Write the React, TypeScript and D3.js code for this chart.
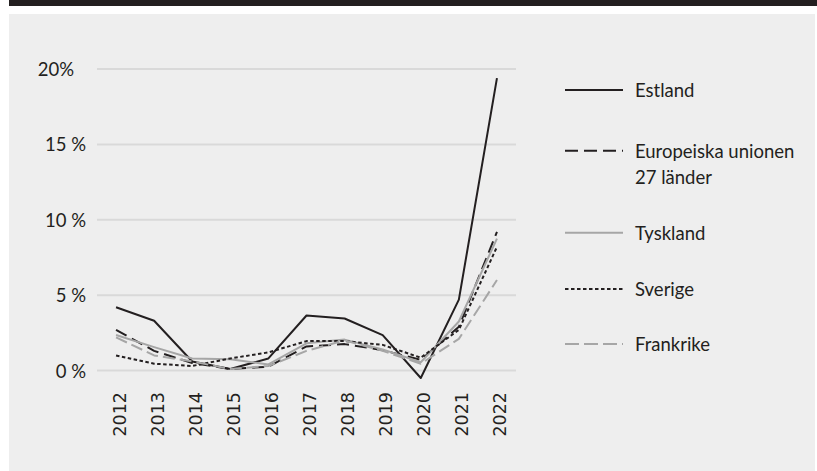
import React from "react";
import * as d3 from "d3";

const years = ["2012","2013","2014","2015","2016","2017","2018","2019","2020","2021","2022"];
const estland = [4.2, 3.3, 0.6, 0.1, 0.8, 3.65, 3.45, 2.35, -0.5, 4.7, 19.4];
const eu27 = [2.7, 1.3, 0.5, 0.1, 0.25, 1.6, 1.75, 1.35, 0.7, 2.9, 9.2];
const tyskland = [2.35, 1.55, 0.8, 0.75, 0.4, 1.8, 2.05, 1.4, 0.55, 3.25, 8.75];
const sverige = [1.0, 0.45, 0.3, 0.8, 1.2, 1.95, 1.95, 1.7, 0.85, 2.7, 8.2];
const frankrike = [2.2, 1.0, 0.6, 0.1, 0.3, 1.3, 2.0, 1.3, 0.45, 2.1, 6.0];
const yTicks = [0, 5, 10, 15, 20];
const yTickLabels = ["0 %", "5 %", "10 %", "15 %", "20%"];

const series = [
  { name: ["Estland"], values: estland, color: "#231f20", dash: null, legendDash: null },
  { name: ["Europeiska unionen", "27 länder"], values: eu27, color: "#231f20", dash: "12,6", legendDash: "13,6" },
  { name: ["Tyskland"], values: tyskland, color: "#a6a6a6", dash: null, legendDash: null },
  { name: ["Sverige"], values: sverige, color: "#231f20", dash: "3.5,2.5", legendDash: "3.5,2.5" },
  { name: ["Frankrike"], values: frankrike, color: "#a6a6a6", dash: "12,5", legendDash: "14,5" },
];

const legendY = [90, 150.7, 232.7, 289, 344];

export default function App() {
  const W = 817, H = 471;
  const x = d3.scaleBand<string>().domain(years).range([97, 516]);
  const y = d3.scaleLinear().domain([0, 20]).range([370.5, 69]);
  const cx = (i: number) => (x(years[i]) as number) + x.bandwidth() / 2;
  const line = d3.line<number>().x((_, i) => cx(i)).y((d) => y(d));
  const lato = "Lato, 'Open Sans', sans-serif";

  return (
    <svg width={W} height={H} style={{ position: "absolute", left: 0, top: 0 }}>
      <rect x={0} y={0} width={W} height={H} fill="#ffffff" />
      <rect x={9} y={0} width={W - 9} height={6} fill="#231f20" />
      <rect x={9} y={14} width={806} height={H - 14} fill="#eeeeee" />
      {yTicks.map((t, i) => (
        <g key={t}>
          <line x1={97} x2={516} y1={y(t)} y2={y(t)} stroke="#d9d9d9" strokeWidth={2} />
          <text
            x={yTickLabels[i].includes(" ") ? 86 : 74}
            y={y(t)}
            textAnchor="end"
            dominantBaseline="central"
            fontFamily={lato}
            fontSize={18.5}
            fill="#231f20"
          >
            {yTickLabels[i]}
          </text>
        </g>
      ))}
      {years.map((yr, i) => (
        <text
          key={yr}
          transform={`translate(${cx(i) + 3.5},392) rotate(-90)`}
          textAnchor="end"
          dominantBaseline="central"
          fontFamily="'DejaVu Sans', sans-serif"
          fontSize={17.5}
          fill="#231f20"
        >
          {yr}
        </text>
      ))}
      {series.map((s) => (
        <path
          key={s.name[0]}
          d={line(s.values) as string}
          fill="none"
          stroke={s.color}
          strokeWidth={2}
          strokeDasharray={s.dash ?? undefined}
          strokeLinejoin="round"
        />
      ))}
      {series.map((s, i) => (
        <g key={"lg" + i}>
          <line
            x1={565}
            x2={623}
            y1={legendY[i]}
            y2={legendY[i]}
            stroke={s.color}
            strokeWidth={2}
            strokeDasharray={s.legendDash ?? undefined}
          />
          {s.name.map((n, j) => (
            <text
              key={n}
              x={635}
              y={legendY[i] + j * 26.3}
              dominantBaseline="central"
              fontFamily={lato}
              fontSize={18.5}
              fill="#231f20"
            >
              {n}
            </text>
          ))}
        </g>
      ))}
    </svg>
  );
}
